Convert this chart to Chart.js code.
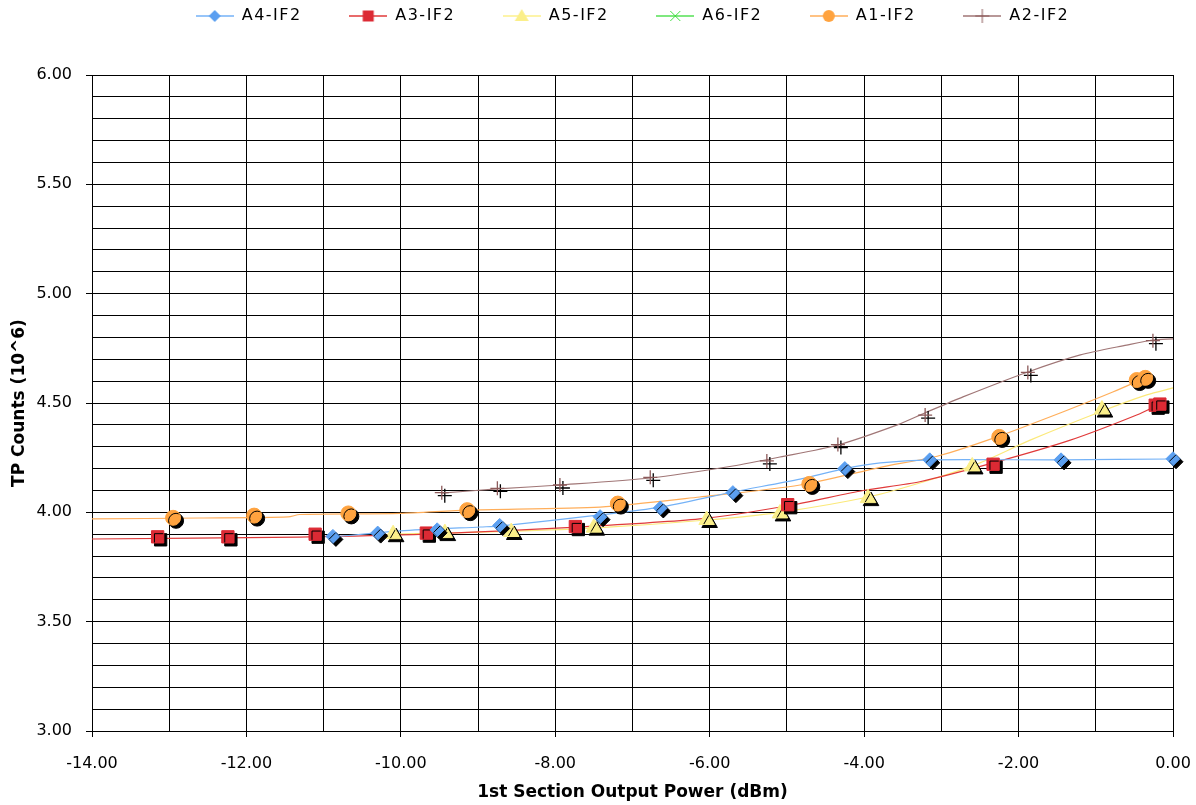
<!DOCTYPE html>
<html>
<head>
<meta charset="utf-8">
<script src="https://cdn.jsdelivr.net/npm/chart.js@4.4.0/dist/chart.umd.min.js"></script>
<style>
  html, body { margin: 0; padding: 0; background: #fff; }
  #wrap { width: 1196px; height: 805px; position: relative; }
</style>
</head>
<body>
<div id="wrap"><canvas id="chart"></canvas></div>
<script>
// markers
const a4X = [-10.88, -10.30, -9.53, -8.72, -7.42, -6.64, -5.70, -4.25, -3.15, -1.45, 0.0]
const a4Y = [3.89, 3.905, 3.92, 3.94, 3.98, 4.02, 4.09, 4.20, 4.24, 4.24, 4.245]
const a3X = [-13.15, -12.24, -11.11, -9.67, -7.74, -4.99, -2.33, -0.23, -0.17]
const a3Y = [3.888, 3.888, 3.90, 3.905, 3.935, 4.035, 4.22, 4.49, 4.495]
const a5X = [-10.10, -9.43, -8.57, -7.50, -6.04, -5.09, -3.95, -2.60, -0.92]
const a5Y = [3.90, 3.905, 3.91, 3.93, 3.965, 3.995, 4.065, 4.21, 4.47]
const a6X = []
const a6Y = []
const a1X = [-12.95, -11.90, -10.68, -9.14, -7.19, -4.71, -2.25, -0.47, -0.36]
const a1Y = [3.975, 3.985, 3.995, 4.01, 4.04, 4.13, 4.345, 4.605, 4.615]
const a2X = [-9.47, -8.75, -7.94, -6.77, -5.26, -4.34, -3.21, -1.88, -0.26]
const a2Y = [4.09, 4.11, 4.125, 4.16, 4.235, 4.31, 4.445, 4.64, 4.785]

// thin curves
const a4LineX = [-10.88, -10.01, -8.97, -8.72, -7.42, -6.64, -5.70, -4.83, -4.25, -3.79, -3.15, -1.46, 0]
const a4LineY = [3.887, 3.915, 3.933, 3.937, 3.988, 4.024, 4.093, 4.152, 4.20, 4.226, 4.24, 4.24, 4.244]
const a3LineX = [-14, -11.31, -9.67, -7.85, -6.13, -4.99, -4.01, -3.28, -2.33, -1.33, -0.47, -0.17]
const a3LineY = [3.878, 3.887, 3.90, 3.93, 3.97, 4.03, 4.10, 4.14, 4.226, 4.33, 4.445, 4.495]
const a5LineX = [-10.10, -8.59, -7.42, -6.03, -5.09, -3.95, -3.15, -2.50, -1.85, -0.94, -0.34, 0]
const a5LineY = [3.90, 3.913, 3.93, 3.965, 4.00, 4.07, 4.148, 4.226, 4.33, 4.46, 4.537, 4.569]
const a1LineX = [-14, -12.60, -11.46, -11.31, -10.01, -9.14, -7.42, -6.13, -4.83, -3.79, -3.02, -2.28, -1.42, -0.78, -0.36]
const a1LineY = [3.970, 3.974, 3.979, 3.99, 3.995, 4.01, 4.024, 4.07, 4.125, 4.206, 4.26, 4.345, 4.46, 4.55, 4.615]
const a2LineX = [-9.48, -8.75, -7.94, -6.77, -5.70, -5.09, -4.34, -3.57, -3.21, -2.72, -1.88, -1.20, -0.60, -0.26, 0]
const a2LineY = [4.088, 4.107, 4.125, 4.157, 4.212, 4.253, 4.308, 4.40, 4.455, 4.528, 4.642, 4.72, 4.765, 4.788, 4.793]

const seriesNames = ['A4-IF2', 'A3-IF2', 'A5-IF2', 'A6-IF2', 'A1-IF2', 'A2-IF2']

function pts(xs, ys) {
    return xs.map((x, i) => ({ x: x, y: ys[i] }))
}

const markerSets = [
    { name: seriesNames[0], x: a4X, y: a4Y, style: 'rectRot', r: 7, fill: '#5b9ff0', line: '#74b2f7' },
    { name: seriesNames[1], x: a3X, y: a3Y, style: 'rect', r: 8.7, fill: '#dc2a34', line: '#e03a3a' },
    { name: seriesNames[2], x: a5X, y: a5Y, style: 'triangle', r: 9, fill: '#fbef8a', line: '#fdf08c' },
    { name: seriesNames[3], x: a6X, y: a6Y, style: 'crossRot', r: 7, fill: '#44dd44', line: '#55e055' },
    { name: seriesNames[4], x: a1X, y: a1Y, style: 'circle', r: 7.5, fill: '#ffa33f', line: '#ffae5a' },
    { name: seriesNames[5], x: a2X, y: a2Y, style: 'cross', r: 7, fill: '#8c5a5a', line: '#a07676' },
]

const curves = [
    { x: a4LineX, y: a4LineY, color: '#74b2f7' },
    { x: a3LineX, y: a3LineY, color: '#e03a3a' },
    { x: a5LineX, y: a5LineY, color: '#fbe97a' },
    { x: a1LineX, y: a1LineY, color: '#ffae5a' },
    { x: a2LineX, y: a2LineY, color: '#a07676' },
]

let datasets = []
markerSets.forEach(m => {
    datasets.push({
        label: m.name,
        data: pts(m.x, m.y),
        showLine: false,
        pointStyle: m.style,
        pointRadius: m.r,
        pointHoverRadius: m.r,
        pointBackgroundColor: m.fill,
        pointBorderColor: m.fill,
        pointBorderWidth: (m.style == 'cross' || m.style == 'crossRot') ? 1.3 : 1,
        clip: false,
        shadow: true,
    })
})
curves.forEach(c => {
    datasets.push({
        label: '',
        data: pts(c.x, c.y),
        showLine: true,
        borderColor: c.color,
        borderWidth: 1.2,
        pointRadius: 0,
        tension: 0.25,
        fill: false,
    })
})

// legend icon: short line + marker
function makeIcon(m) {
    let c = document.createElement('canvas')
    c.width = 38
    c.height = 18
    let g = c.getContext('2d')
    g.strokeStyle = m.line
    g.lineWidth = 1.5
    g.beginPath()
    g.moveTo(0, 9)
    g.lineTo(38, 9)
    g.stroke()
    g.fillStyle = m.fill
    g.strokeStyle = m.fill
    g.lineWidth = 1
    let cx = 19, cy = 9, r = 6
    g.beginPath()
    if (m.style == 'rectRot') {
        g.moveTo(cx, cy - r); g.lineTo(cx + r, cy); g.lineTo(cx, cy + r); g.lineTo(cx - r, cy); g.closePath()
        g.fill()
    } else if (m.style == 'rect') {
        g.rect(cx - 5.5, cy - 5.5, 11, 11)
        g.fill()
    } else if (m.style == 'triangle') {
        g.moveTo(cx, cy - 7); g.lineTo(cx + 7, cy + 5); g.lineTo(cx - 7, cy + 5); g.closePath()
        g.fill()
    } else if (m.style == 'circle') {
        g.arc(cx, cy, 6, 0, Math.PI * 2)
        g.fill()
    } else if (m.style == 'crossRot') {
        g.moveTo(cx - 5, cy - 5); g.lineTo(cx + 5, cy + 5); g.moveTo(cx + 5, cy - 5); g.lineTo(cx - 5, cy + 5)
        g.stroke()
    } else {
        g.moveTo(cx, cy - 7); g.lineTo(cx, cy + 7); g.moveTo(cx - 7, cy); g.lineTo(cx + 7, cy)
        g.stroke()
    }
    return c
}
const icons = markerSets.map(makeIcon)

const shadowPlugin = {
    id: 'markerShadow',
    beforeInit(chart) {
        // taller legend box, and letter spaced legend text like the original
        const lg = chart.legend
        const oldFit = lg.fit
        const oldDraw = lg.draw
        lg.fit = function () {
            this.ctx.letterSpacing = '1.5px'
            oldFit.call(this)
            this.ctx.letterSpacing = '0px'
            this.height = 75
        }
        lg.draw = function () {
            this.ctx.save()
            this.ctx.letterSpacing = '1.5px'
            oldDraw.call(this)
            this.ctx.restore()
        }
    },
    beforeDatasetDraw(chart, args) {
        const ds = chart.data.datasets[args.index]
        if (ds.shadow) {
            const ctx = chart.ctx
            ctx.save()
            ctx.shadowColor = '#000'
            ctx.shadowOffsetX = 3
            ctx.shadowOffsetY = 3
            ctx.shadowBlur = 0
        }
    },
    afterDatasetDraw(chart, args) {
        if (chart.data.datasets[args.index].shadow) chart.ctx.restore()
    }
}

function isMajorY(v) { return Math.abs(v * 2 - Math.round(v * 2)) < 1e-6 }
function isMajorX(v) { return Math.abs(v / 2 - Math.round(v / 2)) < 1e-6 }

Chart.defaults.font.family = 'DejaVu Sans'
Chart.defaults.font.size = 16
Chart.defaults.color = '#000'

const ctx = document.getElementById('chart').getContext('2d')
const myChart = new Chart(ctx, {
    type: 'scatter',
    data: { datasets: datasets },
    plugins: [shadowPlugin],
    options: {
        responsive: true,
        maintainAspectRatio: false,
        animation: false,
        layout: { padding: { left: 0, right: 23, top: 0, bottom: 0 } },
        plugins: {
            tooltip: { enabled: false },
            legend: {
                position: 'top',
                align: 'center',
                fullSize: false,
                labels: {
                    usePointStyle: true,
                    pointStyleWidth: 38,
                    padding: 8,
                    font: { size: 16 },
                    color: '#000',
                    generateLabels: function (chart) {
                        return markerSets.map((m, i) => ({
                            text: i < markerSets.length - 1 ? m.name + '      ' : m.name,
                            datasetIndex: i,
                            pointStyle: icons[i],
                            fillStyle: m.fill,
                            strokeStyle: m.fill,
                            lineWidth: 0,
                            hidden: false,
                        }))
                    }
                }
            }
        },
        scales: {
            x: {
                type: 'linear',
                min: -14,
                max: 0,
                afterFit: s => {
                    s.height = 74
                    s.paddingLeft = 0
                    s.paddingRight = 0
                },
                ticks: {
                    stepSize: 1,
                    autoSkip: false,
                    maxRotation: 0,
                    padding: 17,
                    font: { size: 16 },
                    callback: v => isMajorX(v) ? v.toFixed(2) : ''
                },
                grid: {
                    color: '#000',
                    lineWidth: 1,
                    tickLength: 6,
                    tickColor: c => (c.tick && isMajorX(c.tick.value)) ? '#000' : 'rgba(0,0,0,0)'
                },
                border: { color: '#000', width: 1 },
                title: {
                    display: true,
                    text: '1st Section Output Power (dBm)',
                    font: { size: 17, weight: 'bold' },
                    padding: { top: 0, bottom: 2 }
                }
            },
            y: {
                type: 'linear',
                min: 3,
                max: 6,
                afterFit: s => { s.width = 92 },
                ticks: {
                    stepSize: 0.1,
                    autoSkip: false,
                    padding: 14,
                    font: { size: 16 },
                    callback: v => isMajorY(v) ? v.toFixed(2) : ''
                },
                grid: {
                    color: '#000',
                    lineWidth: 1,
                    tickLength: 6,
                    tickColor: c => (c.tick && isMajorY(c.tick.value)) ? '#000' : 'rgba(0,0,0,0)'
                },
                border: { color: '#000', width: 1 },
                title: {
                    display: true,
                    text: 'TP Counts (10^6)',
                    font: { size: 17, weight: 'bold' },
                    padding: { top: 9, bottom: 0 }
                }
            }
        }
    }
})
</script>
</body>
</html>
